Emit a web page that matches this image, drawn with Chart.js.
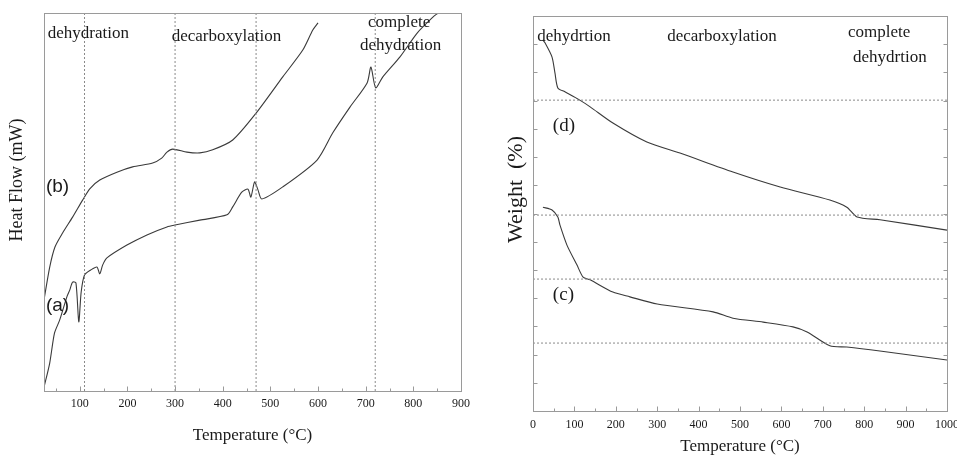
<!DOCTYPE html>
<html><head><meta charset="utf-8">
<script src="https://cdn.jsdelivr.net/npm/chart.js@4.4.1/dist/chart.umd.min.js"></script>
<style>
html,body{margin:0;padding:0;background:#fff;width:957px;height:455px;overflow:hidden}
.box{position:absolute;top:0;height:455px}
</style></head><body>
<div class="box" style="left:0;width:478px"><canvas id="c1" width="478" height="455"></canvas></div>
<div class="box" style="left:478px;width:479px"><canvas id="c2" width="479" height="455"></canvas></div>
<script>
// ---- Left panel (DSC): temperature (°C) and heat flow (arbitrary units) ----
const dscTempA = [25,37,47,58,73,79,85,92,98,103,110,123,136,142,148,157,199,241,283,300,352,409,421,440,453,459,467,474,482,526,598,631,667,703,711,721,736,772,808,841,852];
const dscHeatA = [1,7.4,15.3,18.8,24.9,26.7,28.8,28.6,18.3,26.2,30.7,32,32.8,31,33.3,35.2,38.6,41.3,43.4,43.9,45.2,46.6,48.7,52.6,53.4,51.3,55.3,53.2,50.8,54,61.1,68.3,75.1,81.5,85.7,80.2,83.1,88.4,94.7,98.9,100];
const dscTempB = [25,37,48,64,85,106,121,142,178,211,253,272,283,295,325,352,379,421,470,526,568,589,600];
const dscHeatB = [24.1,32.8,38.1,41.8,46,50.5,53.5,55.8,57.9,59.3,60.3,61.6,63.2,64,63.2,63,63.8,66.4,73.5,83.1,90.2,95.5,97.4];
const dscStageLines = [110,300,470,720];
const dscTickLabels = [100,200,300,400,500,600,700,800,900];
const dscMinorTicks = [50,150,250,350,450,550,650,750,850];

// ---- Right panel (TGA): temperature (°C) and weight (arbitrary units) ----
const tgaTempD = [24,29,46,53,60,77,113,138,193,275,355,483,597,717,758,783,838,1000];
const tgaWeightD = [93.9,93.2,89.6,85.6,81.8,80.8,78.7,77,72.9,68.1,65.3,60.5,56.7,53.4,51.6,49.1,48.4,45.8];
const tgaTempC = [24,46,60,65,82,106,121,138,193,234,300,435,483,556,628,662,717,758,838,1000];
const tgaWeightC = [51.6,50.9,49.1,47.1,42,37,33.9,33.2,30.1,28.9,27.1,25.1,23.5,22.5,21.3,20,16.5,16.2,15.2,12.9];
const tgaLevelLines = [78.7,49.6,33.4,17.2];
const tgaTickLabels = [0,100,200,300,400,500,600,700,800,900,1000];
const tgaMinorTicks = [50,150,250,350,450,550,650,750,850,950];
const tgaYTicks = Array.from({length:15},(_,i)=>i*100/14);

const SERIF = '"Liberation Serif","Times New Roman",serif';
const SANS = '"Liberation Sans",Arial,sans-serif';
const INK = '#1a1a1a';
const CURVE = '#3a3a3a';
const DOT = '#8a8a8a';

const pts = (xs, ys) => xs.map((x,i)=>({x, y: ys[i]}));

const decor = {
  id: 'decor',
  afterDatasetsDraw(chart, args, o) {
    const {ctx, chartArea: a} = chart;
    const xs = chart.scales.x, ys = chart.scales.y;
    ctx.save();
    ctx.strokeStyle = '#9a9a9a'; ctx.lineWidth = 1;
    const L = Math.round(a.left)+0.5, T = Math.round(a.top)+0.5, R = Math.round(a.right)+0.5, B = Math.round(a.bottom)+0.5;
    ctx.strokeRect(L, T, R-L, B-T);
    ctx.beginPath();
    o.xMajor.forEach(v => { const p = Math.round(xs.getPixelForValue(v))+0.5; ctx.moveTo(p,B); ctx.lineTo(p,B-5); });
    o.xMinor.forEach(v => { const p = Math.round(xs.getPixelForValue(v))+0.5; ctx.moveTo(p,B); ctx.lineTo(p,B-3); });
    (o.yTicks||[]).forEach(v => { const p = Math.round(ys.getPixelForValue(v))+0.5; ctx.moveTo(L,p); ctx.lineTo(L+4,p); ctx.moveTo(R,p); ctx.lineTo(R-4,p); });
    ctx.stroke();
    ctx.fillStyle = INK; ctx.textBaseline = 'middle'; ctx.textAlign = 'left';
    o.notes.forEach(n => { ctx.font = n.font; ctx.fillText(n.text, xs.getPixelForValue(n.x), ys.getPixelForValue(n.y)); });
    const t = o.yTitle;
    ctx.translate(t.x, (a.top+a.bottom)/2 + t.shift);
    ctx.rotate(-Math.PI/2);
    ctx.textAlign = 'center';
    ctx.font = t.font;
    ctx.fillText(t.text, 0, 0);
    ctx.restore();
  }
};

function makeChart(id, cfg) {
  const vlines = (cfg.vLines||[]).map(v => ({data:[{x:v,y:0},{x:v,y:100}], borderColor:DOT, borderWidth:1, borderDash:[2,2], pointRadius:0, tension:0}));
  const hlines = (cfg.hLines||[]).map(v => ({data:[{x:cfg.xMin,y:v},{x:cfg.xMax,y:v}], borderColor:DOT, borderWidth:1, borderDash:[2,2], pointRadius:0, tension:0}));
  const curves = cfg.curves.map(c => ({data:c, borderColor:CURVE, borderWidth:1.1, pointRadius:0, tension:0.25}));
  return new Chart(document.getElementById(id), {
    type: 'line',
    data: {datasets: [...vlines, ...hlines, ...curves]},
    options: {
      responsive: false, animation: false, devicePixelRatio: 1,
      layout: {padding: cfg.padding},
      plugins: {legend:{display:false}, tooltip:{enabled:false}, decor: cfg.decor},
      scales: {
        x: {
          type: 'linear', min: cfg.xMin, max: cfg.xMax,
          afterBuildTicks: s => { s.ticks = cfg.xLabels.map(v => ({value:v})); },
          afterFit: s => { s.height = cfg.xHeight; s.paddingLeft = 0; s.paddingRight = 0; },
          grid: {display:false, drawTicks:false}, border: {display:false},
          ticks: {color: INK, font: {family: SERIF, size: 12}, padding: cfg.tickPad, maxRotation: 0, autoSkip: false, callback: v => String(v)},
          title: {display: true, text: 'Temperature (°C)', color: INK, font: {family: SERIF, size: 17, lineHeight: 1}, padding: {top:0, bottom: cfg.titlePad}}
        },
        y: {
          type: 'linear', min: 0, max: 100,
          afterFit: s => { s.width = cfg.yWidth; s.paddingTop = 0; s.paddingBottom = 0; },
          grid: {display:false, drawTicks:false}, border: {display:false},
          ticks: {display:false}
        }
      }
    },
    plugins: [decor]
  });
}

makeChart('c1', {
  xMin: 25, xMax: 900, xLabels: dscTickLabels,
  padding: {top: 13, right: 17, left: 0, bottom: 0},
  xHeight: 64, yWidth: 44, tickPad: 6, titlePad: 11,
  vLines: dscStageLines,
  curves: [pts(dscTempA, dscHeatA), pts(dscTempB, dscHeatB)],
  decor: {
    xMajor: dscTickLabels, xMinor: dscMinorTicks,
    notes: [
      {text:'dehydration', x:33, y:94.7, font:'17px '+SERIF},
      {text:'decarboxylation', x:293, y:93.7, font:'17px '+SERIF},
      {text:'complete', x:705, y:97.6, font:'17px '+SERIF},
      {text:'dehydration', x:688, y:91.5, font:'17px '+SERIF},
      {text:'(b)', x:29, y:54, font:'19px '+SANS},
      {text:'(a)', x:29, y:22.5, font:'19px '+SANS}
    ],
    yTitle: {text:'Heat Flow (mW)', x:17, shift:-22, font:'18px '+SERIF}
  }
});

makeChart('c2', {
  xMin: 0, xMax: 1000, xLabels: tgaTickLabels,
  padding: {top: 16, right: 10, left: 0, bottom: 0},
  xHeight: 44, yWidth: 55, tickPad: 7, titlePad: 0,
  hLines: tgaLevelLines,
  curves: [pts(tgaTempD, tgaWeightD), pts(tgaTempC, tgaWeightC)],
  decor: {
    xMajor: tgaTickLabels, xMinor: tgaMinorTicks, yTicks: tgaYTicks,
    notes: [
      {text:'dehydrtion', x:10, y:94.7, font:'17px '+SERIF},
      {text:'decarboxylation', x:324, y:94.7, font:'17px '+SERIF},
      {text:'complete', x:761, y:95.7, font:'17px '+SERIF},
      {text:'dehydrtion', x:773, y:89.6, font:'17px '+SERIF},
      {text:'(d)', x:48, y:72.2, font:'19px '+SERIF},
      {text:'(c)', x:48, y:29.4, font:'19px '+SERIF}
    ],
    yTitle: {text:'Weight  (%)', x:38, shift:-24, font:'22px '+SERIF}
  }
});
</script>
</body></html>
